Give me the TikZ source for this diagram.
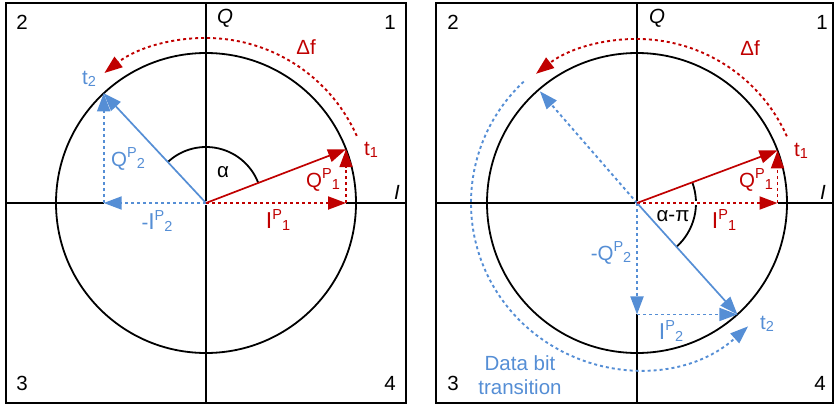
\documentclass[tikz,border=0pt]{standalone}
\usepackage{fontspec}
\setmainfont{Liberation Sans}
\usetikzlibrary{arrows.meta,calc}
\definecolor{cred}{RGB}{192,0,0}
\definecolor{cblue}{RGB}{85,142,213}
\newcommand{\smallf}{\fontsize{14.5}{14.5}\selectfont}
\newcommand{\sps}[3]{#1\raisebox{9pt}{\smallf #2}\raisebox{-2pt}{\smallf #3}}
\newcommand{\tsub}[2]{#1\raisebox{-2pt}{\smallf #2}}
\newcommand{\bigI}{{\fontsize{23}{23}\selectfont I}}
\begin{document}
\begin{tikzpicture}[x=1pt,y=1pt,
  lbl/.style={font=\fontsize{20.5}{24}\selectfont, inner sep=0pt},
  ax/.style={line width=1.8pt, black},
  tipstyle/.style={-{Triangle[length=18pt,width=13pt]}},
  vec/.style={line width=1.7pt, tipstyle},
  dots/.style={line width=1.9pt, dash pattern=on 3pt off 3pt},
  dvec/.style={dots, tipstyle},
  mask/.style={line width=3.5pt, white},
]
\useasboundingbox (0,0) rectangle (835,405);

% ---------- left panel ----------
\coordinate (L) at (206,202);
\coordinate (Lt1) at ($(L)+(21:150pt)$);
\coordinate (Lt2) at ($(L)+(133:150pt)$);
\coordinate (Lf1) at (Lt1 |- L);
\coordinate (Lf2) at (Lt2 |- L);
\draw[ax] (6,2) rectangle (406,402);
\draw[ax] (6,202) -- (406,202);
\draw[ax] (206,2) -- (206,402);
\draw[ax] (L) circle (150pt);
\draw[ax] ($(L)+(21:56pt)$) arc[start angle=21, end angle=133, radius=56pt];
\draw[dvec, cred] ($(L)+(24:165pt)$) arc[start angle=24, end angle=128, radius=165pt];
\draw[mask] (Lf2) -- (Lf1);
\draw[dvec, cblue] (L) -- (Lf2);
\draw[dvec, cblue] (Lf2) -- (Lt2);
\draw[dvec, cred] (L) -- (Lf1);
\draw[dvec, cred] (Lf1) -- (Lt1);
\draw[vec, cblue] (L) -- (Lt2);
\draw[vec, cred] (L) -- (Lt1);

\node[lbl] (l2) at (22,383) {2};
\node[lbl] (l1) at (390,383) {1};
\node[lbl] (l3) at (22,22) {3};
\node[lbl] (l4) at (390,22) {4};
\node[lbl] (lQ) at (225,387) {\itshape Q};
\node[lbl] (lI) at (397,213) {\itshape I};
\node[lbl, cred] (ldf) at (306,358) {Δf};
\node[lbl, cred] (lt1) at (371,255) {\tsub{t}{1}};
\node[lbl, cblue] (lt2) at (89,326) {\tsub{t}{2}};
\node[lbl, cblue] (lq2) at (128,246) {\sps{Q}{P}{2}};
\node[lbl, cblue] (li2) at (157,184) {\sps{-\bigI}{P}{2}};
\node[lbl] (lal) at (223,233) {α};
\node[lbl, cred] (lq1) at (323,225) {\sps{Q}{P}{1}};
\node[lbl, cred] (li1) at (278,185) {\sps{\bigI}{P}{1}};

% ---------- right panel ----------
\coordinate (R) at (637,202);
\coordinate (Rt1) at ($(R)+(20.5:150pt)$);
\coordinate (Rt2) at ($(R)+(-48:150pt)$);
\coordinate (Rd) at ($(R)+(131:148pt)$);
\coordinate (Rf1) at (Rt1 |- R);
\coordinate (Rf2) at (R |- Rt2);
\draw[ax] (436,2) rectangle (833,402);
\draw[ax] (436,202) -- (833,202);
\draw[ax] (637,2) -- (637,402);
\draw[ax] (R) circle (150pt);
\draw[ax] ($(R)+(20.5:59pt)$) arc[start angle=20.5, end angle=-48, radius=59pt];
\draw[dvec, cred] ($(R)+(24:164pt)$) arc[start angle=24, end angle=128, radius=164pt];
\draw[dvec, cblue] ($(R)+(133:166pt)$) arc[start angle=133, end angle=312, radius=166pt];
\draw[mask] (R) -- (Rf1);
\draw[mask] (R) -- (Rf2);
\draw[dvec, cblue] (R) -- (Rd);
\draw[dvec, cblue] (R) -- (Rf2);
\draw[dvec, cblue] (Rf2) -- (Rt2);
\draw[dvec, cred] (R) -- (Rf1);
\draw[dvec, cred] (Rf1) -- (Rt1);
\draw[vec, cblue] (R) -- (Rt2);
\draw[vec, cred] (R) -- (Rt1);

\node[lbl] (r2) at (453,383) {2};
\node[lbl] (r1) at (822,383) {1};
\node[lbl] (r3) at (453,22) {3};
\node[lbl] (r4) at (820,22) {4};
\node[lbl] (rQ) at (657,387) {\itshape Q};
\node[lbl] (rI) at (823,213) {\itshape I};
\node[lbl, cred] (rdf) at (750,357) {Δf};
\node[lbl, cred] (rt1) at (801,254) {\tsub{t}{1}};
\node[lbl, cred] (rq1) at (756,225) {\sps{Q}{P}{1}};
\node[lbl, cred] (ri1) at (724,185) {\sps{\bigI}{P}{1}};
\node[lbl] (ral) at (673,189) {α-π};
\node[lbl, cblue] (rq2) at (611,152) {\sps{-Q}{P}{2}};
\node[lbl, cblue] (ri2) at (671,74) {\sps{\bigI}{P}{2}};
\node[lbl, cblue] (rt2) at (767,81) {\tsub{t}{2}};
\node[lbl, cblue, align=center] (rdb) at (520,30) {Data bit\\transition};
\end{tikzpicture}
\end{document}
